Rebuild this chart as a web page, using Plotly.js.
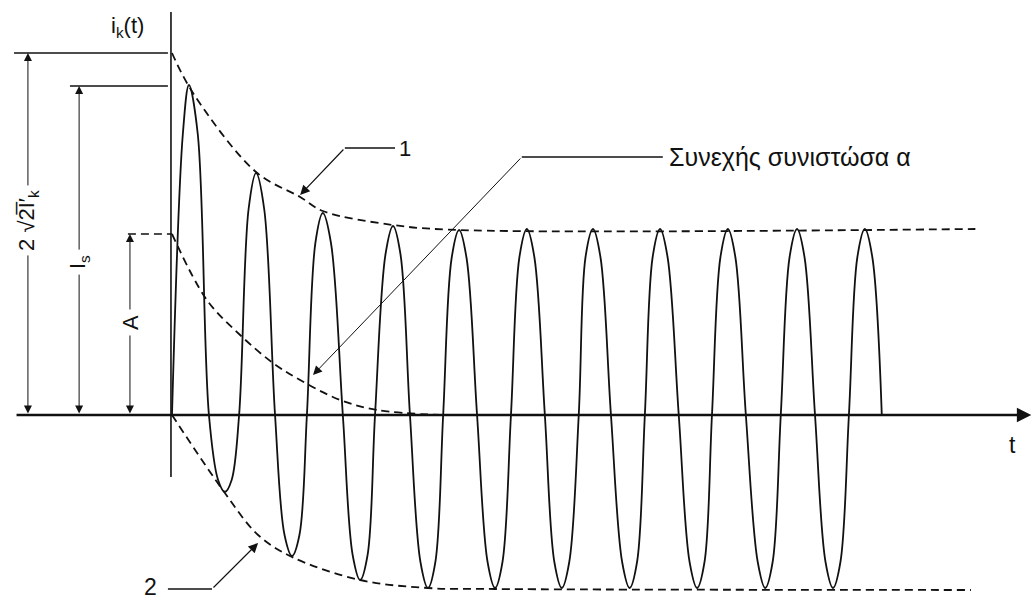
<!DOCTYPE html>
<html>
<head>
<meta charset="utf-8">
<script src="https://cdn.plot.ly/plotly-3.0.1.min.js"></script>
<style>
  html, body { margin: 0; padding: 0; background: #ffffff; }
  #chart { width: 1035px; height: 600px; }
</style>
</head>
<body>
<div id="chart"></div>
<script>
// ---- Data (time in ms, current in arbitrary units) ----
// short-circuit current i_k(t): zero crossings, upper flanks and extremes of each lobe
var tCurrent = [0, 3.2, 5.0, 7.6, 10.9,
                13.6, 15.6, 17.6, 19.8,
                22.6, 24.8, 27.2, 30.4,
                33.2, 35.4, 37.6, 39.8,
                42.3, 44.5, 46.9, 50.4,
                53.3, 55.5, 57.7, 59.9,
                63.0, 65.2, 67.4, 70.2,
                73.3, 75.5, 77.7, 80.0,
                82.5, 84.7, 86.9, 90.0,
                93.1, 95.3, 97.5, 100.0,
                102.5, 104.7, 106.9, 110.0,
                112.8, 115.0, 117.2, 120.0,
                122.0, 124.2, 126.4, 129.5,
                132.8, 135.0, 137.2, 139.5,
                141.8, 144.0, 146.2, 149.5,
                152.7, 154.9, 157.1, 159.3,
                161.8, 164.0, 166.2, 169.3,
                172.8, 175.0, 177.2, 179.6,
                182.2, 184.4, 186.6, 189.7,
                192.8, 195.0, 197.2, 199.7,
                202.2, 204.4, 206.6, 209.4];
var iCurrent = [0, 2.81, 3.30, 2.81, 0,
                -0.65, -0.77, -0.65, 0,
                2.06, 2.42, 2.06, 0,
                -1.20, -1.41, -1.20, 0,
                1.72, 2.02, 1.72, 0,
                -1.40, -1.65, -1.40, 0,
                1.61, 1.89, 1.61, 0,
                -1.47, -1.73, -1.47, 0,
                1.57, 1.85, 1.57, 0,
                -1.47, -1.73, -1.47, 0,
                1.58, 1.86, 1.58, 0,
                -1.47, -1.73, -1.47, 0,
                1.58, 1.86, 1.58, 0,
                -1.47, -1.73, -1.47, 0,
                1.58, 1.86, 1.58, 0,
                -1.47, -1.73, -1.47, 0,
                1.58, 1.86, 1.58, 0,
                -1.47, -1.73, -1.47, 0,
                1.58, 1.86, 1.58, 0,
                -1.47, -1.73, -1.47, 0,
                1.58, 1.86, 1.58, 0];

// envelope 1 (upper)
var tUpper = [0, 6.2, 24.8, 37.8, 44.5, 65.2, 84.7, 237.0];
var iUpper = [3.62, 3.22, 2.43, 2.18, 2.04, 1.90, 1.85, 1.86];

// envelope 2 (lower)
var tLower = [0, 15.6, 25.4, 35.4, 55.5, 75.5, 95.3, 235.7];
var iLower = [0, -0.78, -1.20, -1.42, -1.65, -1.73, -1.74, -1.75];

// DC component (Συνεχής συνιστώσα)
var tDc = [0, 10.3, 20.1, 29.8, 37.8, 49.6, 60.5, 79.0];
var iDc = [1.81, 1.15, 0.80, 0.52, 0.35, 0.15, 0.05, 0];

// characteristic values
var peakFactorVal = 3.62;   // 2√2 I'k
var isVal = 3.29;           // I_s
var aVal = 1.81;            // A

// labels
var labelCurve = 'i<sub>k</sub>(t)';
var labelT = 't';
var label1 = '1';
var label2 = '2';
var labelDc = 'Συνεχής συνιστώσα α';
var label2sqrt2 = '2 √2̅I′<sub>k</sub>';
var labelIs = 'I<sub>s</sub>';
var labelA = 'A';

// ---- Figure ----
var black = '#111111';
var dashPat = '8px,5px';
var fnt = 'Liberation Sans, Arial, sans-serif';

var traces = [
  { x: tUpper, y: iUpper, mode: 'lines', line: { color: black, width: 1.8, dash: dashPat, shape: 'spline', smoothing: 1 }, hoverinfo: 'skip' },
  { x: tLower, y: iLower, mode: 'lines', line: { color: black, width: 1.8, dash: dashPat, shape: 'spline', smoothing: 1 }, hoverinfo: 'skip' },
  { x: tDc, y: iDc, mode: 'lines', line: { color: black, width: 1.8, dash: dashPat, shape: 'spline', smoothing: 1 }, hoverinfo: 'skip' },
  { x: tCurrent, y: iCurrent, mode: 'lines', line: { color: black, width: 1.8, shape: 'spline', smoothing: 1 }, hoverinfo: 'skip' }
];

function seg(x0, y0, x1, y1, w, dash) {
  return { type: 'line', xref: 'x', yref: 'y', x0: x0, y0: y0, x1: x1, y1: y1,
           line: { color: black, width: w, dash: dash || 'solid' }, layer: 'above' };
}
function arrow(xh, yh, xt, yt, w, both, size) {
  return { x: xh, y: yh, ax: xt, ay: yt, xref: 'x', yref: 'y', axref: 'x', ayref: 'y',
           text: '', showarrow: true, arrowhead: 2, arrowsize: size || 1.3, arrowwidth: w,
           arrowcolor: black, arrowside: both ? 'end+start' : 'end', startarrowhead: 2,
           startarrowsize: size || 1.3, standoff: 0, startstandoff: 0 };
}
function label(x, y, text, size, opts) {
  var a = { x: x, y: y, xref: 'x', yref: 'y', text: text, showarrow: false, borderpad: 0,
            font: { family: fnt, size: size, color: black } };
  for (var k in (opts || {})) a[k] = opts[k];
  return a;
}

var shapes = [
  seg(-0.3, 4.03, -0.3, -0.62, 1.6),                 // vertical axis
  seg(-46.6, peakFactorVal, -1.2, peakFactorVal, 1.5), // 2√2I'k level
  seg(-30.1, isVal, -1.2, isVal, 1.5),               // I_s level
  seg(-13.0, aVal, 0, aVal, 1.5, dashPat),           // A level
  seg(51.0, 2.67, 65.8, 2.67, 1.5),                  // leader 1
  seg(103.2, 2.58, 144.8, 2.58, 1.5),                // leader DC
  seg(-1.2, -1.74, 11.8, -1.74, 1.5)                 // leader 2
];

var annotations = [
  arrow(253.5, 0, -46.3, 0, 2.4, false, 1.2),        // t axis
  arrow(-42.5, peakFactorVal, -42.5, 0, 1, true, 1.6),
  arrow(-27.4, isVal, -27.4, 0, 1, true, 1.6),
  arrow(-12.4, aVal, -12.4, 0, 1, true, 1.6),
  arrow(37.8, 2.20, 51.0, 2.67, 1.2, false, 1.6),    // -> envelope 1
  arrow(41.6, 0.40, 103.2, 2.58, 1.0, false, 1.8),   // -> DC component
  arrow(25.4, -1.28, 11.8, -1.74, 1.2, false, 1.6),  // -> envelope 2
  label(-42.5, 1.95, label2sqrt2, 22, { textangle: -90, bgcolor: '#ffffff', borderpad: 4 }),
  label(-27.4, 1.53, labelIs, 22, { textangle: -90, bgcolor: '#ffffff', borderpad: 5 }),
  label(-12.4, 0.93, labelA, 22, { textangle: -90, bgcolor: '#ffffff', borderpad: 5 }),
  label(-13.0, 3.88, labelCurve, 22),
  label(248.0, -0.30, labelT, 23),
  label(66.8, 2.67, label1, 22, { xanchor: 'left' }),
  label(146.3, 2.58, labelDc, 25, { xanchor: 'left' }),
  label(-6.3, -1.72, label2, 23)
];

var layout = {
  width: 1035, height: 600,
  margin: { l: 0, r: 0, t: 0, b: 0, pad: 0 },
  paper_bgcolor: '#ffffff', plot_bgcolor: '#ffffff',
  showlegend: false,
  xaxis: { range: [-50.74, 254.6], visible: false, fixedrange: true },
  yaxis: { range: [-1.85, 4.15], visible: false, fixedrange: true },
  shapes: shapes,
  annotations: annotations
};

Plotly.newPlot('chart', traces, layout, { staticPlot: true, displayModeBar: false });
</script>
</body>
</html>
